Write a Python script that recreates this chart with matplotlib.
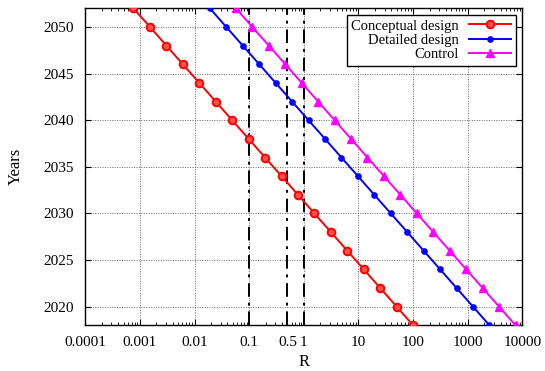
import matplotlib
matplotlib.use("Agg")
import matplotlib.pyplot as plt
from matplotlib.ticker import LogLocator, NullFormatter, FixedLocator, FixedFormatter

# Years sampled every two years
years = [2018, 2020, 2022, 2024, 2026, 2028, 2030, 2032, 2034,
         2036, 2038, 2040, 2042, 2044, 2046, 2048, 2050, 2052]

# R values for each design stage (halving every two years)
conceptual = [100, 50, 25, 12.5, 6.25, 3.125, 1.5625, 0.781, 0.391,
              0.195, 0.0977, 0.0488, 0.0244, 0.0122, 0.0061, 0.00305, 0.00153, 0.00076]
detailed = [2500, 1250, 625, 312.5, 156.3, 78.1, 39.1, 19.5, 9.77,
            4.88, 2.44, 1.22, 0.61, 0.305, 0.153, 0.0763, 0.0381, 0.0191]
control = [7500, 3750, 1875, 937.5, 468.8, 234.4, 117.2, 58.6, 29.3,
           14.6, 7.32, 3.66, 1.83, 0.916, 0.458, 0.229, 0.114, 0.0572]

# Reference thresholds drawn as vertical lines
thresholds = [0.1, 0.5, 1]

xticks = [0.0001, 0.001, 0.01, 0.1, 0.5, 1, 10, 100, 1000, 10000]
xticklabels = ["0.0001", "0.001", "0.01", "0.1", "0.5", "1", "10", "100", "1000", "10000"]
yticks = [2020, 2025, 2030, 2035, 2040, 2045, 2050]

plt.rcParams['font.family'] = ['Liberation Serif', 'DejaVu Serif']
plt.rcParams['font.size'] = 10.5

fig = plt.figure(figsize=(5.45, 3.71), dpi=100)
ax = fig.add_axes([0.1566, 0.1232, 0.8018, 0.8542])

for t in thresholds:
    ax.axvline(t, color='black', linewidth=1.4, linestyle=(0, (7, 3, 1.5, 3)), zorder=2)

ax.plot(conceptual, years, color='red', linewidth=1.4, marker='o', markersize=5.5,
        markerfacecolor='#ff5050', markeredgecolor='red', markeredgewidth=1.4,
        label='Conceptual design', zorder=3)
ax.plot(detailed, years, color='blue', linewidth=1.4, marker='o', markersize=3.8,
        label='Detailed design', zorder=3)
ax.plot(control, years, color='magenta', linewidth=1.4, marker='^', markersize=6,
        label='Control', zorder=3)

ax.set_xscale('log')
ax.set_xlim(0.0001, 10000)
ax.set_ylim(2018, 2052)

ax.xaxis.set_major_locator(FixedLocator(xticks))
ax.xaxis.set_major_formatter(FixedFormatter(xticklabels))
ax.xaxis.set_minor_locator(LogLocator(base=10, subs=(2, 3, 4, 5, 6, 7, 8, 9), numticks=20))
ax.xaxis.set_minor_formatter(NullFormatter())
ax.set_yticks(yticks)

ax.tick_params(which='both', direction='in', top=True, right=True, labelsize=11)
ax.tick_params(which='major', length=4, width=0.8, pad=8)
ax.tick_params(which='minor', length=2.5, width=0.6)

# dotted grid only at decades and major year ticks
for xv in [0.001, 0.01, 0.1, 1, 10, 100, 1000]:
    ax.axvline(xv, color='#666666', linewidth=0.7, linestyle=(0, (1, 1.5)), zorder=1)
for yv in yticks:
    ax.axhline(yv, color='#666666', linewidth=0.7, linestyle=(0, (1, 1.5)), zorder=1)

for s in ax.spines.values():
    s.set_linewidth(1.0)

ax.set_xlabel('R', fontsize=12, labelpad=3)
ax.set_ylabel('Years', fontsize=12, labelpad=14)

leg = ax.legend(loc='upper right', markerfirst=False, fancybox=False, framealpha=1,
                edgecolor='black', handlelength=2.9, borderaxespad=0.45,
                labelspacing=0.08, borderpad=0.3, handletextpad=0.7, fontsize=10.5)
leg.get_frame().set_linewidth(1.0)

fig.savefig('out.png', dpi=100)
